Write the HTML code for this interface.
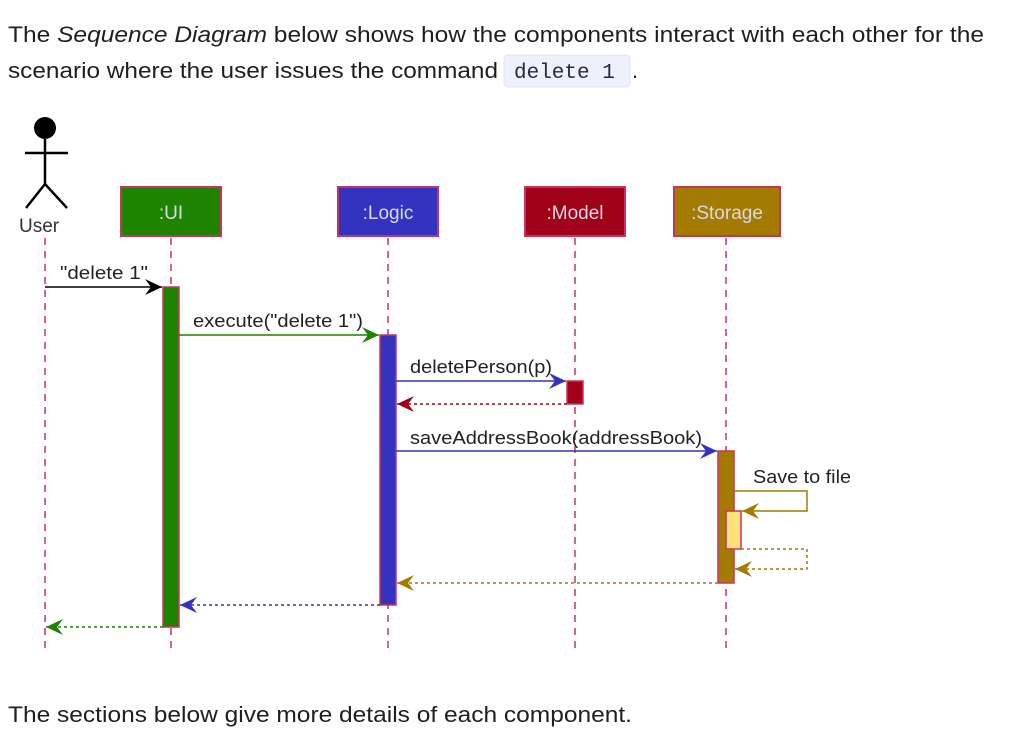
<!DOCTYPE html>
<html><head><meta charset="utf-8"><style>
html,body{margin:0;padding:0;background:#fff;width:1023px;height:731px;overflow:hidden}
svg{display:block}
</style></head><body>
<svg width="1023" height="731" viewBox="0 0 1023 731" xmlns="http://www.w3.org/2000/svg" font-family="Liberation Sans, sans-serif">
<defs>
<marker id="a" markerWidth="18" markerHeight="16" refX="17" refY="8" orient="auto" markerUnits="userSpaceOnUse"><path d="M0,0 L17,8 L0,16 L6,8 Z" fill="context-stroke"/></marker>
</defs>
<text x="8" y="42" font-size="22" fill="#1f1f1f" textLength="976" lengthAdjust="spacingAndGlyphs">The <tspan font-style="italic">Sequence Diagram</tspan> below shows how the components interact with each other for the</text>
<text x="8" y="78" font-size="22" fill="#1f1f1f" textLength="490" lengthAdjust="spacingAndGlyphs">scenario where the user issues the command</text>
<rect x="504" y="55" width="126" height="32" rx="4" fill="#eef0fb" stroke="#e2e5f3"/>
<text x="514" y="78" font-size="21" font-family="Liberation Mono, monospace" fill="#1f2a44">delete 1</text>
<text x="632" y="78" font-size="22" fill="#1f1f1f">.</text>
<text x="8" y="722" font-size="22" fill="#1f1f1f" textLength="624" lengthAdjust="spacingAndGlyphs">The sections below give more details of each component.</text>

<g stroke="#c8345f" stroke-width="1.5" stroke-dasharray="7,6">
<line x1="45" y1="238" x2="45" y2="650"/>
<line x1="171" y1="238" x2="171" y2="650"/>
<line x1="388" y1="238" x2="388" y2="650"/>
<line x1="575" y1="238" x2="575" y2="650"/>
<line x1="726" y1="238" x2="726" y2="650"/>
</g>

<circle cx="45" cy="128" r="11" fill="#000"/>
<g stroke="#000" stroke-width="2.5" fill="none">
<line x1="45" y1="139" x2="45" y2="184"/>
<line x1="25" y1="153" x2="68" y2="153"/>
<line x1="45" y1="184" x2="26" y2="208"/>
<line x1="45" y1="184" x2="67" y2="208"/>
</g>
<text x="19" y="232" font-size="19" fill="#333">User</text>

<g stroke="#c8345f" stroke-width="2">
<rect x="121" y="187" width="100" height="49" fill="#1e8400"/>
<rect x="338" y="187" width="100" height="49" fill="#3333c0"/>
<rect x="525" y="187" width="100" height="49" fill="#a00018"/>
<rect x="674" y="187" width="106" height="49" fill="#a37b00"/>
</g>
<g font-size="19" fill="#d8d8e8" text-anchor="middle">
<text x="171" y="219">:UI</text>
<text x="388" y="219">:Logic</text>
<text x="575" y="219">:Model</text>
<text x="727" y="219">:Storage</text>
</g>

<g stroke="#c8345f" stroke-width="1.5">
<rect x="163" y="287" width="16" height="340" fill="#1e8400"/>
<rect x="380" y="335" width="16" height="270" fill="#3333c0"/>
<rect x="567" y="381" width="16" height="23" fill="#a00018"/>
<rect x="718" y="451" width="16" height="132" fill="#a37b00"/>
<rect x="726" y="511" width="15" height="38" fill="#ffe07a"/>
</g>

<g fill="none" stroke-width="1.5">
<line x1="45" y1="287" x2="162" y2="287" stroke="#000" marker-end="url(#a)"/>
<line x1="179" y1="335" x2="379" y2="335" stroke="#1e8400" marker-end="url(#a)"/>
<line x1="396" y1="381" x2="566" y2="381" stroke="#3333c0" marker-end="url(#a)"/>
<line x1="567" y1="404" x2="397" y2="404" stroke="#a00018" stroke-dasharray="3,3" marker-end="url(#a)"/>
<line x1="396" y1="451" x2="717" y2="451" stroke="#3333c0" marker-end="url(#a)"/>
<polyline points="734,491 807,491 807,511 742,511" stroke="#a37b00" marker-end="url(#a)"/>
<polyline points="741,549 807,549 807,569 735,569" stroke="#a37b00" stroke-dasharray="3,3" marker-end="url(#a)"/>
<line x1="718" y1="583" x2="397" y2="583" stroke="#a37b00" stroke-dasharray="3,3" marker-end="url(#a)"/>
<line x1="380" y1="605" x2="180" y2="605" stroke="#3333c0" stroke-dasharray="3,3" marker-end="url(#a)"/>
<line x1="163" y1="627" x2="46" y2="627" stroke="#1e8400" stroke-dasharray="3,3" marker-end="url(#a)"/>
</g>
<g font-size="18" fill="#222">
<text x="60" y="279" textLength="88" lengthAdjust="spacingAndGlyphs">"delete 1"</text>
<text x="193" y="327" textLength="170" lengthAdjust="spacingAndGlyphs">execute("delete 1")</text>
<text x="410" y="373" textLength="142" lengthAdjust="spacingAndGlyphs">deletePerson(p)</text>
<text x="410" y="444" textLength="292" lengthAdjust="spacingAndGlyphs">saveAddressBook(addressBook)</text>
<text x="753" y="483" textLength="98" lengthAdjust="spacingAndGlyphs">Save to file</text>
</g>
</svg>
</body></html>
